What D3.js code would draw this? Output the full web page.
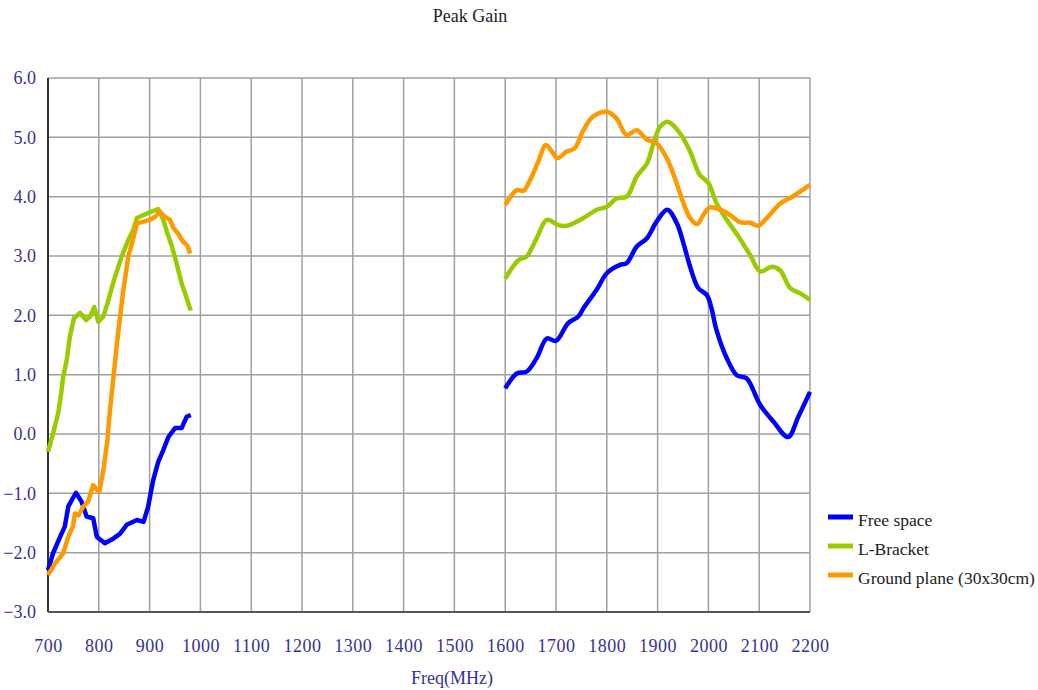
<!DOCTYPE html>
<html>
<head>
<meta charset="utf-8">
<script src="https://cdn.jsdelivr.net/npm/d3@7"></script>
<style>
  body { margin: 0; background: #fff; }
  svg text { font-family: "Liberation Serif", "DejaVu Serif", serif; }
</style>
</head>
<body>
<div id="chart"></div>
<script>
const xTicks = [700, 800, 900, 1000, 1100, 1200, 1300, 1400, 1500, 1600, 1700, 1800, 1900, 2000, 2100, 2200];
const yTicks = [-3, -2, -1, 0, 1, 2, 3, 4, 5, 6];

// [freq MHz, gain dBi]
const freeLow = [[700,-2.3],[710,-2.01],[724,-1.73],[733,-1.56],[740,-1.22],[755,-0.99],[766,-1.14],[776,-1.39],[789,-1.42],[796,-1.73],[812,-1.84],[829,-1.76],[842,-1.68],[855,-1.53],[875,-1.45],[888,-1.48],[897,-1.23],[907,-0.78],[917,-0.47],[927,-0.27],[937,-0.05],[950,0.1],[963,0.1],[973,0.29],[981,0.32]];
const freeHigh = [[1600,0.77],[1623,1.02],[1642,1.05],[1662,1.28],[1682,1.61],[1700,1.57],[1724,1.87],[1744,1.98],[1754,2.12],[1780,2.43],[1800,2.71],[1826,2.85],[1839,2.88],[1859,3.16],[1879,3.3],[1898,3.58],[1919,3.78],[1938,3.55],[1951,3.21],[1964,2.82],[1980,2.46],[1997,2.34],[2006,2.12],[2016,1.75],[2036,1.28],[2056,0.99],[2075,0.94],[2102,0.49],[2128,0.21],[2157,-0.05],[2177,0.29],[2200,0.71]];

const bracketLow = [[700,-0.3],[710,0.01],[720,0.35],[726,0.69],[730,0.97],[737,1.25],[743,1.64],[751,1.95],[763,2.04],[775,1.92],[783,1.98],[791,2.14],[799,1.89],[809,1.98],[819,2.26],[830,2.6],[845,2.99],[858,3.27],[868,3.44],[875,3.64],[888,3.69],[904,3.75],[917,3.79],[927,3.61],[934,3.41],[944,3.16],[953,2.88],[963,2.54],[970,2.37],[974,2.26],[981,2.08]];
const bracketHigh = [[1600,2.62],[1626,2.93],[1642,2.99],[1662,3.3],[1682,3.61],[1705,3.52],[1721,3.51],[1754,3.64],[1780,3.78],[1800,3.83],[1819,3.97],[1839,4.0],[1859,4.34],[1879,4.56],[1892,4.9],[1905,5.18],[1921,5.26],[1944,5.07],[1964,4.76],[1983,4.37],[2000,4.23],[2016,3.89],[2036,3.61],[2059,3.33],[2082,3.02],[2102,2.74],[2125,2.82],[2141,2.76],[2161,2.46],[2181,2.37],[2200,2.26]];

const groundLow = [[700,-2.38],[714,-2.18],[730,-2.01],[740,-1.73],[749,-1.56],[753,-1.34],[760,-1.37],[769,-1.23],[779,-1.14],[789,-0.86],[796,-0.94],[801,-0.97],[809,-0.61],[817,-0.1],[822,0.4],[829,0.97],[835,1.47],[842,1.98],[848,2.4],[858,2.99],[867,3.27],[875,3.55],[888,3.58],[901,3.61],[911,3.66],[920,3.75],[930,3.66],[940,3.61],[947,3.47],[956,3.38],[966,3.24],[974,3.18],[980,3.04]];
const groundHigh = [[1600,3.86],[1623,4.11],[1636,4.1],[1649,4.28],[1665,4.59],[1680,4.87],[1692,4.76],[1703,4.65],[1721,4.76],[1737,4.82],[1754,5.12],[1773,5.35],[1800,5.43],[1819,5.32],[1839,5.04],[1859,5.12],[1879,4.96],[1898,4.9],[1918,4.65],[1934,4.31],[1951,3.89],[1964,3.64],[1978,3.54],[1990,3.69],[2003,3.82],[2023,3.78],[2043,3.69],[2062,3.57],[2082,3.56],[2098,3.51],[2115,3.64],[2141,3.88],[2167,4.01],[2200,4.2]];

const seriesNames = ["Free space", "L-Bracket", "Ground plane (30x30cm)"];
const seriesColors = ["#0000ff", "#99cc00", "#ff9900"];
const seriesData = [[freeLow, freeHigh], [bracketLow, bracketHigh], [groundLow, groundHigh]];

const W = 1038, H = 690;
const margin = { top: 78, right: 228, bottom: 78, left: 48 };
const width = W - margin.left - margin.right;
const height = H - margin.top - margin.bottom;

const svg = d3.select("#chart").append("svg")
  .attr("width", W).attr("height", H);

const g = svg.append("g")
  .attr("transform", `translate(${margin.left},${margin.top})`);

const x = d3.scaleLinear().domain([700, 2200]).range([0, width]);
const y = d3.scaleLinear().domain([-3, 6]).range([height, 0]);

const TICK_COLOR = "#333399";

// grid
g.append("g")
  .selectAll("line.v")
  .data(xTicks.slice(1))
  .join("line")
    .attr("x1", d => x(d)).attr("x2", d => x(d))
    .attr("y1", 0).attr("y2", height)
    .attr("stroke", "#a0a0a0").attr("stroke-width", 1.5);

g.append("g")
  .selectAll("line.h")
  .data(yTicks.slice(1))
  .join("line")
    .attr("x1", 0).attr("x2", width)
    .attr("y1", d => y(d)).attr("y2", d => y(d))
    .attr("stroke", "#a0a0a0").attr("stroke-width", 1.5);

// axes
const yAxis = g.append("g")
  .call(d3.axisLeft(y).tickValues(yTicks).tickFormat(d3.format(".1f")).tickSize(0).tickPadding(12));
yAxis.select(".domain").remove();
yAxis.selectAll("text")
  .attr("fill", TICK_COLOR).attr("font-size", 18)
  .attr("font-family", "Liberation Serif, serif");

const xAxis = g.append("g")
  .attr("transform", `translate(0,${height})`)
  .call(d3.axisBottom(x).tickValues(xTicks).tickFormat(d3.format("d")).tickSize(0).tickPadding(27));
xAxis.select(".domain").remove();
xAxis.selectAll("text")
  .attr("fill", TICK_COLOR).attr("font-size", 18)
  .attr("letter-spacing", 0.5)
  .attr("font-family", "Liberation Serif, serif");

g.append("line")
  .attr("x1", 0).attr("x2", 0).attr("y1", 0).attr("y2", height)
  .attr("stroke", "#333").attr("stroke-width", 2);
g.append("line")
  .attr("x1", 0).attr("x2", width).attr("y1", height).attr("y2", height)
  .attr("stroke", "#555").attr("stroke-width", 2);

// series
const lowLine = d3.line().x(d => x(d[0])).y(d => y(d[1])).curve(d3.curveLinear);
const highLine = d3.line().x(d => x(d[0])).y(d => y(d[1])).curve(d3.curveCatmullRom.alpha(0.5));

seriesData.forEach((segs, i) => {
  segs.forEach((seg, j) => {
    g.append("path")
      .datum(seg)
      .attr("fill", "none")
      .attr("stroke", seriesColors[i])
      .attr("stroke-width", 4.5)
      .attr("stroke-linejoin", "round")
      .attr("d", j === 0 ? lowLine(seg) : highLine(seg));
  });
});

// title + axis label
svg.append("text")
  .attr("x", 470).attr("y", 22)
  .attr("text-anchor", "middle")
  .attr("font-size", 18).attr("fill", "#222")
  .text("Peak Gain");

svg.append("text")
  .attr("x", 452).attr("y", 684)
  .attr("text-anchor", "middle")
  .attr("font-size", 18).attr("fill", TICK_COLOR)
  .text("Freq(MHz)");

// legend
const legend = svg.append("g").attr("transform", "translate(828,521)");
seriesNames.forEach((name, i) => {
  const row = legend.append("g").attr("transform", `translate(0,${i * 29})`);
  row.append("line")
    .attr("x1", 0).attr("x2", 25).attr("y1", -4).attr("y2", -4)
    .attr("stroke", seriesColors[i]).attr("stroke-width", 5);
  row.append("text")
    .attr("x", 30).attr("y", 5)
    .attr("font-size", 17.5).attr("fill", "#222")
    .text(name);
});
</script>
</body>
</html>
